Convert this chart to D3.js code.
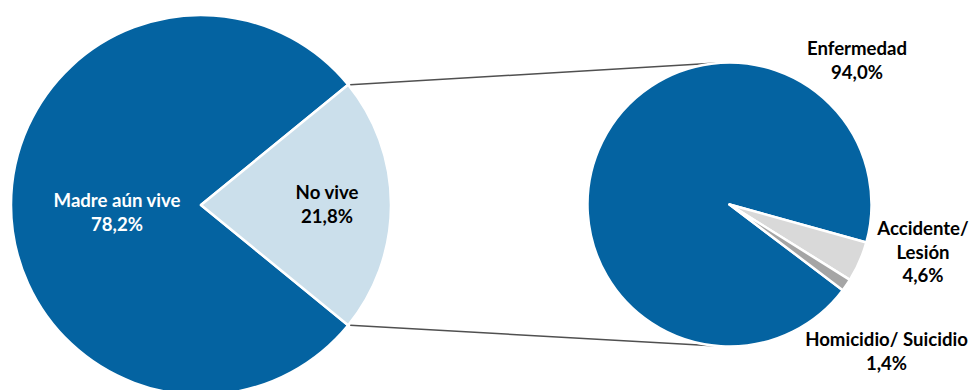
<!DOCTYPE html>
<html>
<head>
<meta charset="utf-8">
<script src="https://cdn.jsdelivr.net/npm/d3@7"></script>
<style>
  html, body { margin: 0; padding: 0; background: #fff; }
  svg { display: block; }
  text { font-family: Lato, "Open Sans", sans-serif; font-weight: 700; }
</style>
</head>
<body>
<svg id="chart" width="969" height="390"></svg>
<script>
// Main split: is the mother alive?
const mainCategories = ["Madre aún vive", "No vive"];
const mainValues = [78.2, 21.8];

// Breakdown of the "No vive" share by cause
const causeCategories = ["Enfermedad", "Accidente/\nLesión", "Homicidio/ Suicidio"];
const causeValues = [94.0, 4.6, 1.4];

const fmt = v => d3.format(".1f")(v).replace(".", ",") + "%";

const svg = d3.select("#chart");

const blue = "#0463a1";
const mainColor = d3.scaleOrdinal().domain(mainCategories).range([blue, "#cbdfeb"]);
const causeColor = d3.scaleOrdinal().domain(causeCategories).range([blue, "#d9d9d9", "#a5a5a5"]);

const deg = Math.PI / 180;

// ---- Left pie ----
const L = { cx: 201, cy: 205, r: 190 };
const noViveShare = mainValues[1] / d3.sum(mainValues);
const mainStart = (90 + noViveShare * 180) * deg; // centre "No vive" on the right
const mainPie = d3.pie().sort(null).value(d => d)
  .startAngle(mainStart).endAngle(mainStart + 2 * Math.PI);
const mainArcs = mainPie(mainValues);
const mainArc = d3.arc().innerRadius(0).outerRadius(L.r);

// ---- Right pie ----
const R = { cx: 729.5, cy: 204.5, r: 142 };
const smallStart = 105.5 * deg; // where the small causes begin, clockwise from 12 o'clock
const bigSpan = causeValues[0] / d3.sum(causeValues) * 2 * Math.PI;
const causePie = d3.pie().sort(null).value(d => d)
  .startAngle(smallStart - bigSpan).endAngle(smallStart - bigSpan + 2 * Math.PI);
const causeArcs = causePie(causeValues);
const causeArc = d3.arc().innerRadius(0).outerRadius(R.r);

// ---- Connector lines from the "No vive" slice to tangent points of the right pie ----
const nv = mainArcs[1];
const edgePt = a => [L.cx + L.r * Math.sin(a), L.cy - L.r * Math.cos(a)];
const pTop = edgePt(nv.startAngle), pBot = edgePt(nv.endAngle);
function tangent(p, side) {
  const dx = p[0] - R.cx, dy = p[1] - R.cy;
  const d = Math.hypot(dx, dy);
  const base = Math.atan2(dy, dx);
  const t = base + side * Math.acos(R.r / d);
  return [R.cx + R.r * Math.cos(t), R.cy + R.r * Math.sin(t)];
}
const tTop = tangent(pTop, 1), tBot = tangent(pBot, -1);
svg.append("g").attr("stroke", "#505050").attr("stroke-width", 1.5)
  .selectAll("line").data([[pTop, tTop], [pBot, tBot]]).join("line")
  .attr("x1", d => d[0][0] + 2).attr("y1", d => d[0][1])
  .attr("x2", d => d[1][0]).attr("y2", d => d[1][1]);

const gL = svg.append("g").attr("transform", `translate(${L.cx},${L.cy})`);
gL.selectAll("path").data(mainArcs).join("path")
  .attr("d", mainArc)
  .attr("fill", (d, i) => mainColor(mainCategories[i]))
  .attr("stroke", "#fff").attr("stroke-width", 2.5).attr("stroke-linejoin", "round");

const gR = svg.append("g").attr("transform", `translate(${R.cx},${R.cy})`);
gR.selectAll("path").data(causeArcs).join("path")
  .attr("d", causeArc)
  .attr("fill", (d, i) => causeColor(causeCategories[i]))
  .attr("stroke", "#fff").attr("stroke-width", 2.5).attr("stroke-linejoin", "round");

// ---- Labels ----
const fs = 18.6, lh = 23.5;
function label(x, y, lines, fill) {
  const t = svg.append("text").attr("text-anchor", "middle")
    .attr("font-size", fs).attr("fill", fill);
  lines.forEach((s, i) => t.append("tspan").attr("x", x).attr("y", y + i * lh).text(s));
}
label(L.cx - 84, 207, [mainCategories[0], fmt(mainValues[0])], "#fff");
label(L.cx + 126, 199, [mainCategories[1], fmt(mainValues[1])], "#000");

label(R.cx + 127.5, 55, [causeCategories[0], fmt(causeValues[0])], "#000");
label(R.cx + 193.5, 235, [...causeCategories[1].split("\n"), fmt(causeValues[1])], "#000");
label(R.cx + 157, 346, [causeCategories[2], fmt(causeValues[2])], "#000");
</script>
</body>
</html>
